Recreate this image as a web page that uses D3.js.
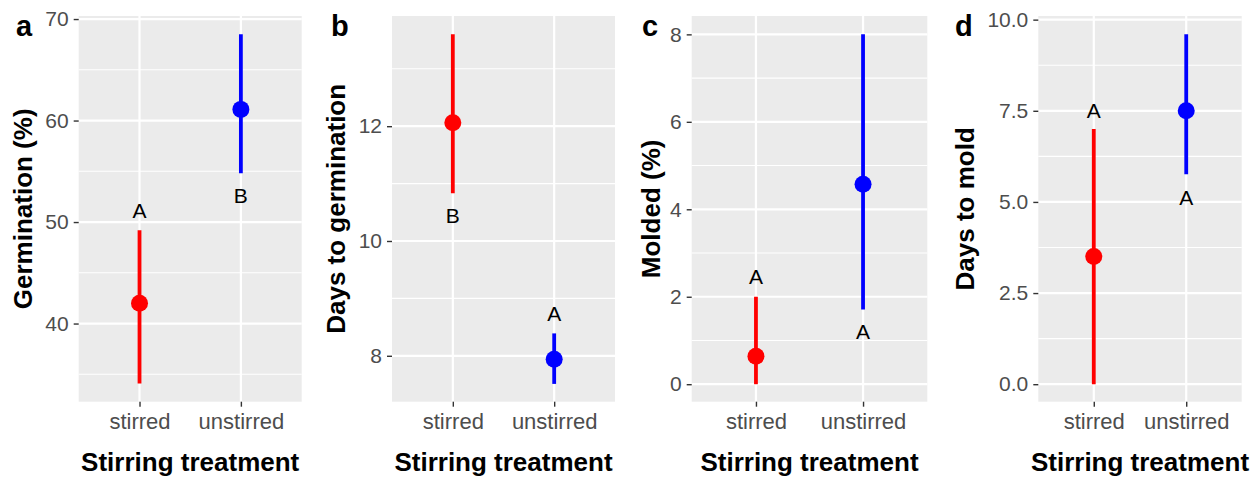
<!DOCTYPE html>
<html lang="en">
<head>
  <meta charset="utf-8">
  <title>Stirring treatment panels</title>
  <script src="https://d3js.org/d3.v7.min.js"></script>
  <style>
    * { margin: 0; padding: 0; }
    body { background: #fff; font-family: "Liberation Sans", Arial, sans-serif; }
  </style>
</head>
<body>
<svg id="chart" width="1259" height="479"></svg>
<script>
// ---- data ----
const groups = ["stirred", "unstirred"];
const groupColors = ["#FF0000", "#0000FF"];
const panelTags = ["a", "b", "c", "d"];
const yTitles = ["Germination (%)", "Days to germination", "Molded (%)", "Days to mold"];
const xTitle = "Stirring treatment";

const germMean = [42.0, 61.1], germLow = [34.1, 54.8], germHigh = [49.2, 68.5];
const germLetters = ["A", "B"], germLetterY = [51.1, 52.6];
const germDomain = [32.3, 70.3], germTicks = [40, 50, 60, 70], germMinor = [35, 45, 55, 65];

const dgermMean = [12.06, 7.94], dgermLow = [10.83, 7.51], dgermHigh = [13.6, 8.39];
const dgermLetters = ["B", "A"], dgermLetterY = [10.45, 8.74];
const dgermDomain = [7.2, 13.92], dgermTicks = [8, 10, 12], dgermMinor = [9, 11, 13];

const moldMean = [0.64, 4.57], moldLow = [0, 1.71], moldHigh = [2.0, 8.0];
const moldLetters = ["A", "A"], moldLetterY = [2.46, 1.2];
const moldDomain = [-0.4, 8.42], moldTicks = [0, 2, 4, 6, 8], moldMinor = [1, 3, 5, 7];

const dmoldMean = [3.5, 7.5], dmoldLow = [0, 5.76], dmoldHigh = [7.0, 9.6];
const dmoldLetters = ["A", "A"], dmoldLetterY = [7.5, 5.12];
const dmoldDomain = [-0.48, 10.1], dmoldTicks = [0, 2.5, 5, 7.5, 10], dmoldMinor = [1.25, 3.75, 6.25, 8.75];

const panels = [
  { mean: germMean, low: germLow, high: germHigh, letters: germLetters, letterY: germLetterY,
    domain: germDomain, ticks: germTicks, minor: germMinor, fmt: d3.format("d") },
  { mean: dgermMean, low: dgermLow, high: dgermHigh, letters: dgermLetters, letterY: dgermLetterY,
    domain: dgermDomain, ticks: dgermTicks, minor: dgermMinor, fmt: d3.format("d") },
  { mean: moldMean, low: moldLow, high: moldHigh, letters: moldLetters, letterY: moldLetterY,
    domain: moldDomain, ticks: moldTicks, minor: moldMinor, fmt: d3.format("d") },
  { mean: dmoldMean, low: dmoldLow, high: dmoldHigh, letters: dmoldLetters, letterY: dmoldLetterY,
    domain: dmoldDomain, ticks: dmoldTicks, minor: dmoldMinor, fmt: d3.format(".1f") }
];

// ---- layout (pixels) ----
const boxes = [
  { left: 78.7,  right: 301.7,  tagX: 16,  titleX: 32 },
  { left: 392,   right: 615,    tagX: 331, titleX: 345 },
  { left: 691.7, right: 927.3,  tagX: 642, titleX: 660 },
  { left: 1038.3, right: 1241.7, tagX: 955, titleX: 973.5 }
];
const plotTop = 16, plotBottom = 401.7;

const svg = d3.select("#chart");
svg.append("rect").attr("width", 1259).attr("height", 479).attr("fill", "#fff");

panels.forEach((p, i) => {
  const b = boxes[i];
  const x = d3.scalePoint().domain(groups).range([b.left, b.right]).padding(0.6);
  const y = d3.scaleLinear().domain(p.domain).range([plotBottom, plotTop]);
  const g = svg.append("g");

  g.append("rect")
    .attr("x", b.left).attr("y", plotTop)
    .attr("width", b.right - b.left).attr("height", plotBottom - plotTop)
    .attr("fill", "#EBEBEB");

  g.selectAll(".minor").data(p.minor).join("line")
    .attr("x1", b.left).attr("x2", b.right)
    .attr("y1", d => y(d)).attr("y2", d => y(d))
    .attr("stroke", "#fff").attr("stroke-width", 1.1);

  g.selectAll(".major").data(p.ticks).join("line")
    .attr("x1", b.left).attr("x2", b.right)
    .attr("y1", d => y(d)).attr("y2", d => y(d))
    .attr("stroke", "#fff").attr("stroke-width", 2.2);

  g.selectAll(".vmajor").data(groups).join("line")
    .attr("x1", d => x(d)).attr("x2", d => x(d))
    .attr("y1", plotTop).attr("y2", plotBottom)
    .attr("stroke", "#fff").attr("stroke-width", 2.2);

  // y axis ticks + labels
  const yAxis = d3.axisLeft(y).tickValues(p.ticks).tickFormat(p.fmt).tickSize(5).tickPadding(5);
  const ya = g.append("g").attr("transform", `translate(${b.left},0)`).call(yAxis);
  ya.select(".domain").remove();
  ya.selectAll(".tick line").attr("stroke", "#333").attr("stroke-width", 1.4);
  ya.selectAll(".tick text")
    .attr("fill", "#4D4D4D").style("font-size", "21px")
    .style("font-family", "'Liberation Sans', Arial, sans-serif");

  // x axis ticks + labels
  const xAxis = d3.axisBottom(x).tickSize(5).tickPadding(7);
  const xa = g.append("g").attr("transform", `translate(0,${plotBottom})`).call(xAxis);
  xa.select(".domain").remove();
  xa.selectAll(".tick line").attr("stroke", "#333").attr("stroke-width", 1.4);
  xa.selectAll(".tick text")
    .attr("fill", "#4D4D4D").style("font-size", "22px")
    .style("font-family", "'Liberation Sans', Arial, sans-serif");

  // point ranges
  const idx = d3.range(groups.length);
  g.selectAll(".range").data(idx).join("line")
    .attr("x1", k => x(groups[k])).attr("x2", k => x(groups[k]))
    .attr("y1", k => y(p.low[k])).attr("y2", k => y(p.high[k]))
    .attr("stroke", k => groupColors[k]).attr("stroke-width", 3.8);

  g.selectAll(".pt").data(idx).join("circle")
    .attr("cx", k => x(groups[k])).attr("cy", k => y(p.mean[k]))
    .attr("r", 8.5).attr("fill", k => groupColors[k]);

  g.selectAll(".letter").data(idx).join("text")
    .attr("x", k => x(groups[k])).attr("y", k => y(p.letterY[k]))
    .attr("text-anchor", "middle").attr("dy", "0.36em")
    .style("font-size", "21px").attr("fill", "#000")
    .text(k => p.letters[k]);

  // titles
  g.append("text")
    .attr("x", (b.left + b.right) / 2).attr("y", 471)
    .attr("text-anchor", "middle")
    .style("font-size", "26px").style("font-weight", "bold")
    .text(xTitle);

  g.append("text")
    .attr("transform", `translate(${b.titleX},${(plotTop + plotBottom) / 2}) rotate(-90)`)
    .attr("text-anchor", "middle")
    .style("font-size", "26px").style("font-weight", "bold")
    .text(yTitles[i]);

  g.append("text")
    .attr("x", b.tagX).attr("y", 36)
    .style("font-size", "29px").style("font-weight", "bold")
    .text(panelTags[i]);
});
</script>
</body>
</html>
